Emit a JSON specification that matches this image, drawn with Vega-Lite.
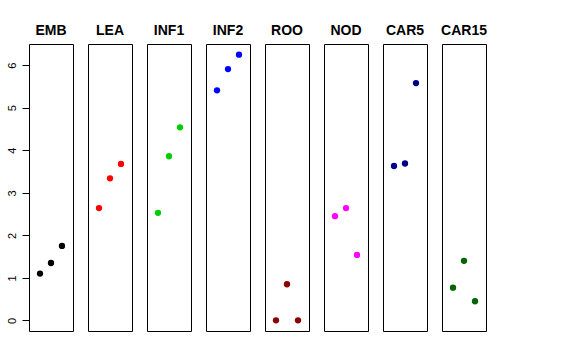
{
  "$schema": "https://vega.github.io/schema/vega-lite/v6.json",
  "background": "white",
  "padding": {"left": 6, "top": 24, "right": 5, "bottom": 5},
  "bounds": "flush",
  "data": {"values": [
    {"group": "EMB", "idx": 1, "value": 1.10},
    {"group": "EMB", "idx": 2, "value": 1.35},
    {"group": "EMB", "idx": 3, "value": 1.75},
    {"group": "LEA", "idx": 1, "value": 2.64},
    {"group": "LEA", "idx": 2, "value": 3.34},
    {"group": "LEA", "idx": 3, "value": 3.68},
    {"group": "INF1", "idx": 1, "value": 2.53},
    {"group": "INF1", "idx": 2, "value": 3.86},
    {"group": "INF1", "idx": 3, "value": 4.54},
    {"group": "INF2", "idx": 1, "value": 5.41},
    {"group": "INF2", "idx": 2, "value": 5.91},
    {"group": "INF2", "idx": 3, "value": 6.25},
    {"group": "ROO", "idx": 1, "value": 0.0},
    {"group": "ROO", "idx": 2, "value": 0.85},
    {"group": "ROO", "idx": 3, "value": 0.0},
    {"group": "NOD", "idx": 1, "value": 2.45},
    {"group": "NOD", "idx": 2, "value": 2.64},
    {"group": "NOD", "idx": 3, "value": 1.54},
    {"group": "CAR5", "idx": 1, "value": 3.63},
    {"group": "CAR5", "idx": 2, "value": 3.69},
    {"group": "CAR5", "idx": 3, "value": 5.58},
    {"group": "CAR15", "idx": 1, "value": 0.77},
    {"group": "CAR15", "idx": 2, "value": 1.40},
    {"group": "CAR15", "idx": 3, "value": 0.45}
  ]},
  "facet": {
    "column": {
      "field": "group",
      "type": "nominal",
      "sort": ["EMB", "LEA", "INF1", "INF2", "ROO", "NOD", "CAR5", "CAR15"],
      "title": null,
      "header": {
        "labelFont": "Liberation Sans",
        "labelFontSize": 14,
        "labelFontWeight": "bold",
        "labelColor": "black",
        "labelPadding": 6
      }
    }
  },
  "spacing": 15,
  "spec": {
    "width": 44,
    "height": 287,
    "mark": {"type": "circle", "size": 40, "opacity": 1},
    "encoding": {
      "x": {"field": "idx", "type": "quantitative", "scale": {"domain": [0, 4], "nice": false}, "axis": null},
      "y": {
        "field": "value",
        "type": "quantitative",
        "scale": {"domain": [-0.25, 6.5], "nice": false, "zero": false},
        "axis": {
          "values": [0, 1, 2, 3, 4, 5, 6],
          "title": null,
          "grid": false,
          "labelAngle": -90,
          "labelAlign": "center",
          "labelBaseline": "bottom",
          "tickSize": 7,
          "tickColor": "black",
          "domain": false,
          "labelFont": "Liberation Sans",
          "labelFontSize": 11,
          "labelColor": "black",
          "labelPadding": 5
        }
      },
      "color": {
        "field": "group",
        "type": "nominal",
        "scale": {
          "domain": ["EMB", "LEA", "INF1", "INF2", "ROO", "NOD", "CAR5", "CAR15"],
          "range": ["#000000", "#FF0000", "#00CD00", "#0000FF", "#8B0000", "#FF00FF", "#00008B", "#006400"]
        },
        "legend": null
      }
    }
  },
  "config": {"view": {"stroke": "black", "strokeWidth": 1}}
}
